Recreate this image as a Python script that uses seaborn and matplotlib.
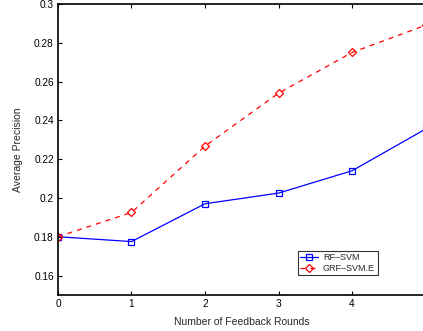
import pandas as pd
import seaborn as sns
import matplotlib.pyplot as plt
from matplotlib.ticker import FormatStrFormatter

rounds = [0, 1, 2, 3, 4, 5]
rf_svm = [0.180, 0.1775, 0.197, 0.2025, 0.214, 0.2355]
grf_svm_e = [0.180, 0.1925, 0.2267, 0.254, 0.275, 0.289]

sns.set_style('ticks')
plt.rcParams['font.family'] = ['Liberation Sans', 'DejaVu Sans']

fig = plt.figure(figsize=(4.23, 3.31), dpi=100)
ax = fig.add_axes([0.137, 0.109, 0.869, 0.879])

df_rf = pd.DataFrame({'round': rounds, 'ap': rf_svm})
df_grf = pd.DataFrame({'round': rounds, 'ap': grf_svm_e})

sns.lineplot(data=df_rf, x='round', y='ap', ax=ax, color='blue', lw=0.9,
             marker='s', markersize=4.5, markerfacecolor='none',
             markeredgecolor='blue', markeredgewidth=0.9, label='RF\u2013SVM')
sns.lineplot(data=df_grf, x='round', y='ap', ax=ax, color='red', lw=0.9,
             linestyle=(0, (4, 4)), marker='D', markersize=4.5,
             markerfacecolor='none', markeredgecolor='red',
             markeredgewidth=0.9, label='GRF\u2013SVM.E')

ax.set_xlim(0, 5)
ax.set_ylim(0.15, 0.3)
# the figure is cut at x = 5, so only ticks 0..4 show
ax.set_xticks([0, 1, 2, 3, 4])
ax.set_yticks([0.16, 0.18, 0.2, 0.22, 0.24, 0.26, 0.28, 0.3])
ax.yaxis.set_major_formatter(FormatStrFormatter('%g'))
ax.tick_params(direction='in', length=3, width=0.8, labelsize=7.3,
               top=True, right=False, colors='black', pad=3)
for s in ax.spines.values():
    s.set_linewidth(1.2)
    s.set_color('black')

ax.set_xlabel('Number of Feedback Rounds', fontsize=7.5, labelpad=6)
ax.set_ylabel('Average Precision', fontsize=7.5, labelpad=8)

leg = ax.legend(loc='upper left', bbox_to_anchor=(0.652, 0.152), fontsize=6.5,
                frameon=True, fancybox=False, edgecolor='black',
                handlelength=2.0, borderpad=0.3, labelspacing=0.15,
                handletextpad=0.5, borderaxespad=0)
leg.get_frame().set_linewidth(0.8)

fig.savefig('out.png', dpi=100)
